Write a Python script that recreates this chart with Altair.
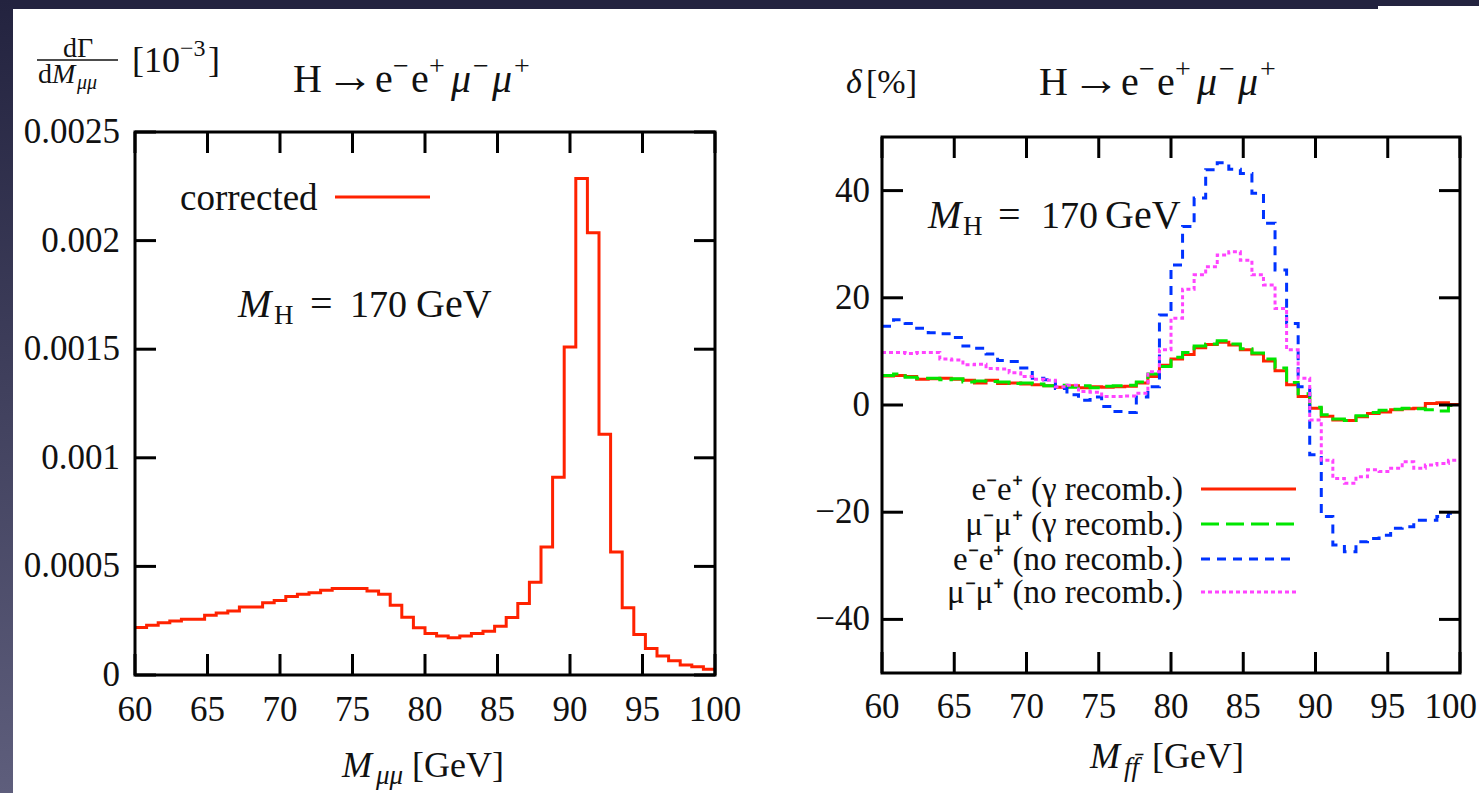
import altair as alt
import numpy as np
import pandas as pd

FONT = "Liberation Serif"
INK = "#111111"
NAVY = "#23233f"

# 0.8 GeV bins between 60 and 100 GeV
BIN_EDGES = np.round(np.arange(60.0, 100.0 + 1e-9, 0.8), 1)

# dGamma/dM_mumu per bin (corrected)
CORRECTED = [0.000219, 0.000229, 0.000240, 0.000249, 0.000257, 0.000257, 0.000275, 0.000286, 0.000295, 0.000313,
             0.000313, 0.000333, 0.000343, 0.000361, 0.000372, 0.000379, 0.000390, 0.000398, 0.000398, 0.000398,
             0.000387, 0.000372, 0.000321, 0.000266, 0.000217, 0.000191, 0.000179, 0.000171, 0.000180, 0.000191,
             0.000202, 0.000225, 0.000265, 0.000329, 0.000427, 0.000589, 0.000910, 0.001510, 0.002286, 0.002036,
             0.001109, 0.000566, 0.000310, 0.000187, 0.000122, 0.000087, 0.000066, 0.000046, 0.000038, 0.000026]

# relative corrections delta [%] per bin
EE_GAMMA = [5.4, 5.5, 5.3, 4.8, 4.9, 5.0, 4.8, 4.6, 4.1, 4.6,
            4.0, 4.1, 3.9, 3.8, 3.6, 3.3, 3.6, 3.2, 3.4, 3.3,
            3.4, 3.5, 4.1, 5.3, 7.4, 8.6, 9.4, 10.7, 11.3, 11.7,
            11.2, 10.3, 9.5, 8.2, 6.4, 3.8, 1.6, -0.6, -2.1, -2.8,
            -2.9, -2.2, -1.6, -1.3, -0.9, -0.7, -0.6, 0.3, 0.4, 0.1]
MUMU_GAMMA = [5.5, 5.8, 5.2, 5.0, 5.0, 4.7, 4.9, 4.3, 4.5, 4.4,
              4.3, 4.0, 4.1, 3.9, 3.6, 3.7, 3.3, 3.6, 3.2, 3.5,
              3.6, 3.7, 4.3, 5.8, 7.2, 8.9, 9.8, 11.0, 11.4, 12.0,
              11.4, 10.5, 9.7, 8.6, 6.9, 4.2, 2.1, -0.4, -1.8, -2.6,
              -2.9, -2.0, -1.4, -1.0, -0.8, -0.6, -0.7, -0.9, -1.1, -0.1]
EE_BARE = [14.7, 15.9, 15.2, 14.3, 13.5, 13.3, 12.6, 11.0, 10.6, 9.5,
           8.3, 8.1, 6.9, 5.0, 4.7, 3.1, 1.9, 0.9, 1.5, -0.3,
           -1.2, -1.4, 1.5, 3.4, 16.8, 26.1, 33.3, 38.6, 43.9, 45.2,
           44.0, 43.2, 39.5, 33.9, 25.2, 15.2, 3.4, -9.3, -20.8, -26.1,
           -27.4, -25.5, -24.9, -24.3, -23.0, -22.7, -21.5, -21.5, -20.8, -20.2]
MUMU_BARE = [9.8, 9.8, 9.6, 9.8, 9.8, 8.6, 8.4, 7.5, 7.6, 6.8,
             6.7, 6.0, 5.3, 4.8, 4.6, 3.4, 3.7, 2.5, 2.4, 1.6,
             1.6, 1.7, 2.2, 6.2, 10.3, 16.2, 21.6, 24.3, 25.8, 28.0,
             28.6, 27.0, 24.3, 22.4, 18.0, 10.3, 5.0, -2.8, -10.3, -13.7,
             -14.6, -13.4, -12.1, -12.4, -11.8, -10.6, -11.8, -11.2, -10.9, -10.3]

X_TICKS = [60, 65, 70, 75, 80, 85, 90, 95, 100]
Y_TICKS_RATE = [0, 0.0005, 0.001, 0.0015, 0.002, 0.0025]
Y_TICKS_DELTA = [-40, -20, 0, 20, 40]

LEGEND_LABELS = ["e⁻e⁺ (γ recomb.)", "μ⁻μ⁺ (γ recomb.)",
                 "e⁻e⁺ (no recomb.)", "μ⁻μ⁺ (no recomb.)"]
SERIES = [
    (EE_GAMMA, "#ff2200", None),
    (MUMU_GAMMA, "#00e600", [18, 7]),
    (EE_BARE, "#0033ff", [9, 7]),
    (MUMU_BARE, "#ff44ff", [4, 3]),
]

# process title, glyph by glyph: (glyph, x offset, size, raised, italic)
TITLE_GLYPHS = [("H", 0, 40, False, False), ("→", 33, 48, False, False),
                ("e", 82, 40, False, False), ("−", 100, 28, True, False),
                ("e", 118, 40, False, False), ("+", 136, 28, True, False),
                ("μ", 158, 40, False, True), ("−", 180, 28, True, False),
                ("μ", 199, 40, False, True), ("+", 221, 28, True, False)]

ONE = pd.DataFrame({"k": [0]})
TICK_LEN = 21
LABEL_SIZE = 35

# the two panels: scales put them side by side on one canvas
LEFT = dict(sx=alt.Scale(domain=[60, 100], range=[135, 715], nice=False, zero=False),
            sy=alt.Scale(domain=[0, 0.0025], range=[675, 132], nice=False, zero=False),
            top=132, bottom=675, left=135, right=715)
RIGHT = dict(sx=alt.Scale(domain=[60, 100], range=[882, 1460], nice=False, zero=False),
             sy=alt.Scale(domain=[-50, 50], range=[673, 137], nice=False, zero=False),
             top=137, bottom=673, left=882, right=1460)


def X(p, field="m"):
    return alt.X(f"{field}:Q", scale=p["sx"], axis=None)


def Y(p, field="v"):
    return alt.Y(f"{field}:Q", scale=p["sy"], axis=None)


def steps(values):
    return pd.DataFrame({"m": BIN_EDGES, "v": list(values) + [values[-1]]})


def text(s, x, y, size, italic=False, align="left", baseline="alphabetic"):
    kw = dict(text=s, font=FONT, fontSize=size, color=INK, align=align, baseline=baseline)
    if italic:
        kw["fontStyle"] = "italic"
    return alt.Chart(ONE).mark_text(**kw).encode(x=alt.value(x), y=alt.value(y))


def title(x, y):
    out = []
    for g, dx, size, raised, italic in TITLE_GLYPHS:
        out.append(text(g, x + dx, y - 17 if raised else y, size, italic=italic))
    return out


def seg(x1, x2, y, color, width, dash=None):
    kw = dict(color=color, strokeWidth=width, strokeCap="butt")
    if dash:
        kw["strokeDash"] = dash
    return alt.Chart(ONE).mark_rule(**kw).encode(x=alt.value(x1), x2=alt.value(x2), y=alt.value(y))


def box(x1, x2, y1, y2, fill):
    return alt.Chart(ONE).mark_rect(color=fill).encode(
        x=alt.value(x1), x2=alt.value(x2), y=alt.value(y1), y2=alt.value(y2))


def step_line(p, values, color, dash=None):
    kw = dict(interpolate="step-after", color=color, strokeWidth=3, strokeCap="butt")
    if dash:
        kw["strokeDash"] = dash
    return alt.Chart(steps(values)).mark_line(**kw).encode(x=X(p), y=Y(p))


def frame(p, yticks, ylabel_x, xlabel_y, yfmt, pull_last=False):
    ydom = p["sy"].domain
    box_df = pd.DataFrame({"m": [60], "m2": [100], "v": [ydom[0]], "v2": [ydom[1]]})
    xt = pd.DataFrame({"m": X_TICKS})
    yt = pd.DataFrame({"v": yticks})
    st = dict(color="black", strokeWidth=3)
    lab = dict(font=FONT, fontSize=LABEL_SIZE, color=INK, baseline="middle")
    out = [
        alt.Chart(box_df).mark_rect(fill="transparent", stroke="black", strokeWidth=3).encode(
            x=X(p), x2="m2:Q", y=Y(p), y2="v2:Q"),
        alt.Chart(xt).mark_rule(**st).encode(x=X(p), y=alt.value(p["bottom"]),
                                             y2=alt.value(p["bottom"] - TICK_LEN)),
        alt.Chart(xt).mark_rule(**st).encode(x=X(p), y=alt.value(p["top"]),
                                             y2=alt.value(p["top"] + TICK_LEN)),
        alt.Chart(yt).mark_rule(**st).encode(y=Y(p), x=alt.value(p["left"]),
                                             x2=alt.value(p["left"] + TICK_LEN)),
        alt.Chart(yt).mark_rule(**st).encode(y=Y(p), x=alt.value(p["right"] - TICK_LEN),
                                             x2=alt.value(p["right"])),
        alt.Chart(yt).mark_text(align="right", **lab).encode(
            y=Y(p), x=alt.value(ylabel_x), text=alt.Text("v:Q", format=yfmt)),
    ]
    if pull_last:
        # last label kept inside the canvas edge
        out += [
            alt.Chart(xt).transform_filter("datum.m < 100").mark_text(align="center", **lab).encode(
                x=X(p), y=alt.value(xlabel_y), text=alt.Text("m:Q", format="d")),
            alt.Chart(xt).transform_filter("datum.m == 100").mark_text(align="right", dx=17, **lab).encode(
                x=X(p), y=alt.value(xlabel_y), text=alt.Text("m:Q", format="d")),
        ]
    else:
        out.append(alt.Chart(xt).mark_text(align="center", **lab).encode(
            x=X(p), y=alt.value(xlabel_y), text=alt.Text("m:Q", format="d")))
    return out


side_strip = alt.Chart(ONE).mark_rect(color=alt.LinearGradient(
    gradient="linear",
    stops=[alt.GradientStop(color=NAVY, offset=0), alt.GradientStop(color="#5e5e7c", offset=1)],
    x1=0, x2=0, y1=0, y2=1)).encode(
    x=alt.value(0), x2=alt.value(13), y=alt.value(0), y2=alt.value(793))

layers = [
    box(0, 1378, 0, 9, NAVY),
    box(1378, 1479, 0, 6, NAVY),
    side_strip,
]

# ---------------- left panel: dGamma/dM_mumu ----------------
layers += [
    step_line(LEFT, CORRECTED, "#ff2200"),
    *frame(LEFT, Y_TICKS_RATE, 120, 710, "~g"),
    # y title as a fraction
    text("dΓ", 78, 57, 28, align="center"),
    seg(37, 118, 60, INK, 1.5),
    text("d", 38, 83, 28),
    text("M", 52, 83, 28, italic=True),
    text("μμ", 77, 89, 20, italic=True),
    text("[10", 132, 72, 36),
    text("−3", 180, 56, 24),
    text("]", 208, 72, 36),
    *title(293, 92),
    # key
    text("corrected", 180, 199, 37, baseline="middle"),
    seg(335, 430, 197, "#ff2200", 3),
    # mass annotation
    text("M", 238, 317, 40, italic=True),
    text("H", 274, 324, 27),
    text("=", 310, 317, 40),
    text("170", 350, 317, 38),
    text("GeV", 416, 317, 40),
    # x title
    text("M", 342, 777, 36, italic=True),
    text("μμ", 376, 784, 27, italic=True),
    text("[GeV]", 412, 777, 36),
]

# ---------------- right panel: delta [%] ----------------
for vals, color, dash in SERIES:
    layers.append(step_line(RIGHT, vals, color, dash))
layers += frame(RIGHT, Y_TICKS_DELTA, 870, 707, "d", pull_last=True)

LEGEND_ROWS_Y = [489, 524, 559, 592]
for label, (vals, color, dash), ly in zip(LEGEND_LABELS, SERIES, LEGEND_ROWS_Y):
    layers.append(text(label, 1183, ly + 1, 33, align="right", baseline="middle"))
    layers.append(seg(1201, 1296, ly, color, 3, dash))

layers += [
    text("δ", 846, 93, 34, italic=True),
    text("[%]", 866, 93, 34),
    *title(1039, 95),
    text("M", 928, 228, 40, italic=True),
    text("H", 963, 235, 27),
    text("=", 998, 228, 40),
    text("170", 1041, 228, 38),
    text("GeV", 1105, 228, 40),
    text("M", 1090, 768, 36, italic=True),
    text("ff̄", 1124, 776, 27, italic=True),
    text("[GeV]", 1152, 768, 36),
]

chart = alt.layer(*layers).resolve_scale(x="independent", y="independent").properties(
    width=1479, height=793, autosize=alt.AutoSizeParams(type="none"),
    padding={"left": 0, "top": 0, "right": 0, "bottom": 0}
).configure(background="white").configure_view(stroke=None)

chart.save("out.html", embed_options={"renderer": "svg", "actions": False})
